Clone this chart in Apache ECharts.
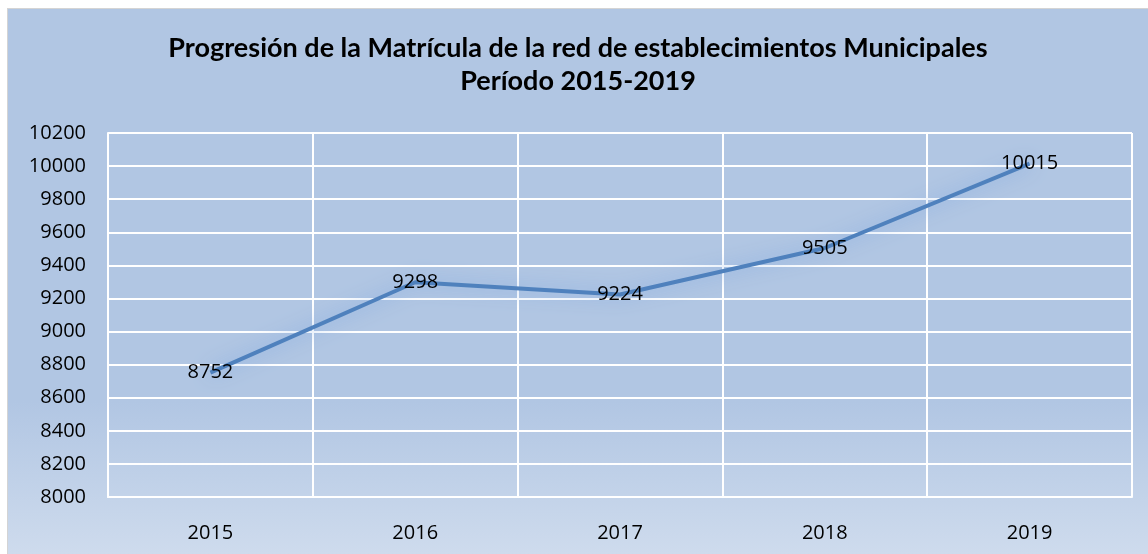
<!DOCTYPE html>
<html>
<head>
<meta charset="utf-8">
<script src="https://cdn.jsdelivr.net/npm/echarts@6/dist/echarts.min.js"></script>
<style>
  html, body { margin: 0; padding: 0; background: #fff; }
  #chart { position: absolute; left: 7px; top: 8px; width: 1141px; height: 546px;
           border-left: 1px solid #d4d4d4; border-top: 1px solid #d4d4d4; box-sizing: border-box; }
</style>
</head>
<body>
<div id="chart"></div>
<script>
const years = ['2015', '2016', '2017', '2018', '2019'];
const matricula = [8752, 9298, 9224, 9505, 10015];
const yMin = 8000, yMax = 10200, yStep = 200;

const font = '"Open Sans", sans-serif';
const mychart = echarts.init(document.getElementById('chart'));
mychart.setOption({
  backgroundColor: {
    type: 'linear', x: 0, y: 0, x2: 0, y2: 1,
    colorStops: [
      { offset: 0, color: '#b1c6e3' },
      { offset: 0.72, color: '#b1c6e3' },
      { offset: 1, color: '#cedbed' }
    ]
  },
  title: {
    text: 'Progresión de la Matrícula de la red de establecimientos Municipales\nPeríodo 2015-2019',
    left: 'center',
    top: 18,
    textStyle: { fontFamily: 'Lato, sans-serif', fontWeight: 'bold', fontSize: 27, color: '#000', lineHeight: 33 }
  },
  grid: { left: 100, top: 124, width: 1024, height: 364 },
  xAxis: {
    type: 'category',
    data: years,
    boundaryGap: true,
    axisLine: { show: true, lineStyle: { color: '#fff', width: 2 } },
    axisTick: { show: false },
    splitLine: { show: true, lineStyle: { color: '#fff', width: 2 } },
    axisLabel: { color: '#000', fontFamily: font, fontSize: 20, margin: 26 }
  },
  yAxis: {
    type: 'value',
    min: yMin, max: yMax, interval: yStep,
    axisLine: { show: true, lineStyle: { color: '#fff', width: 2 } },
    axisTick: { show: false },
    splitLine: { show: true, lineStyle: { color: '#fff', width: 2 } },
    axisLabel: { color: '#000', fontFamily: font, fontSize: 20, margin: 22, formatter: v => String(v) }
  },
  series: [{
    type: 'line',
    data: matricula,
    symbol: 'circle',
    symbolSize: 1,
    itemStyle: { color: 'rgba(0,0,0,0)' },
    lineStyle: { color: '#4f81bd', width: 4, shadowBlur: 18, shadowColor: 'rgba(120,165,225,0.85)' },
    label: { show: true, position: 'inside', color: '#000', fontFamily: font, fontSize: 20 },
    animation: false
  }],
  animation: false
});
</script>
</body>
</html>
